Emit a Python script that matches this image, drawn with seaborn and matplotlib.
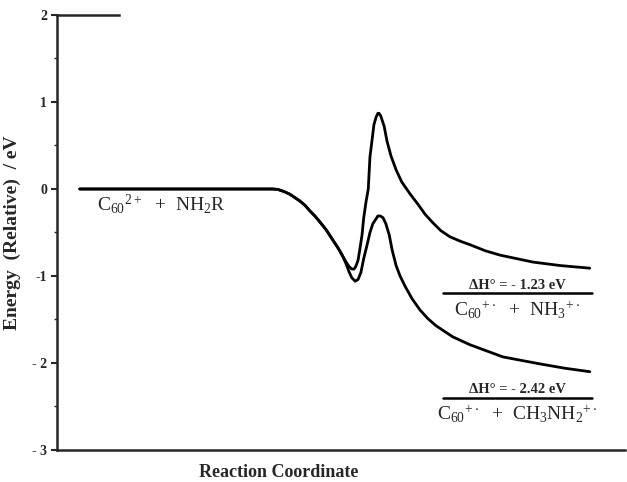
import numpy as np
import pandas as pd
import matplotlib
matplotlib.use("Agg")
import matplotlib.pyplot as plt
import seaborn as sns

# Curve points: reaction coordinate (0..100 across the axis) and energy (eV)
shared_x = [4.0, 38.0, 38.9, 40.0, 41.0, 41.9, 42.8, 43.7, 44.5, 45.4, 46.3, 47.4, 48.6, 49.5, 50.2]
shared_y = [0.0, 0.0, -0.005, -0.03, -0.06, -0.10, -0.14, -0.19, -0.25, -0.31, -0.38, -0.47, -0.59, -0.68, -0.76]

upper_x = [50.9, 51.4, 51.9, 52.3, 52.6, 53.0, 53.3, 53.7, 54.0, 54.4, 54.8, 55.1, 55.5, 55.8,
           56.2, 56.5, 56.7, 57.0, 57.6, 58.1, 58.8, 59.7, 60.7, 62.2, 63.6, 64.8, 66.2, 67.6,
           69.2, 71.0, 72.7, 75.4, 78.0, 83.8, 88.6, 93.8]
upper_y = [-0.84, -0.89, -0.92, -0.92, -0.89, -0.82, -0.70, -0.53, -0.33, -0.15, 0.0, 0.37, 0.58, 0.74,
           0.83, 0.87, 0.87, 0.84, 0.72, 0.55, 0.38, 0.22, 0.08, -0.06, -0.18, -0.29, -0.39, -0.48,
           -0.55, -0.60, -0.64, -0.71, -0.76, -0.84, -0.88, -0.91]

lower_x = [50.9, 51.4, 51.9, 52.5, 53.0, 53.5, 54.0, 54.6, 55.1, 55.6, 56.2, 56.5, 56.9, 57.4,
           57.9, 58.5, 59.0, 59.7, 60.4, 61.3, 62.5, 63.9, 65.3, 66.7, 68.3, 69.7, 72.7, 78.5,
           85.0, 89.4, 93.8]
lower_y = [-0.86, -0.95, -1.02, -1.06, -1.04, -0.96, -0.80, -0.64, -0.50, -0.40, -0.34, -0.31, -0.31, -0.33,
           -0.40, -0.53, -0.70, -0.88, -1.00, -1.12, -1.26, -1.39, -1.49, -1.57, -1.64, -1.70, -1.79, -1.93,
           -2.01, -2.06, -2.10]

dh_labels = ['ΔH° = - 1.23 eV', 'ΔH° = - 2.42 eV']
dh_line_y = [-1.20, -2.40]
product_labels = [r'C$_{60}$$^{+\cdot}$  +  NH$_3$$^{+\cdot}$',
                  r'C$_{60}$$^{+\cdot}$  +  CH$_3$NH$_2$$^{+\cdot}$']
reactant_label = r'C$_{60}$$^{2+}$  +  NH$_2$R'
yticks = [2, 1, 0, -1, -2, -3]
ytick_labels = ['2', '1', '0', '-1', '- 2', '- 3']

upper = pd.DataFrame({'x': shared_x + upper_x, 'y': shared_y + upper_y})
lower = pd.DataFrame({'x': shared_x + lower_x, 'y': shared_y + lower_y})

sns.set_style("ticks")
plt.rcParams['font.family'] = ['Liberation Serif', 'DejaVu Serif']
plt.rcParams['mathtext.default'] = 'regular'

fig = plt.figure(figsize=(6.27, 4.82), dpi=100)
ax = fig.add_axes([57 / 627, 32 / 482, 568 / 627, 435 / 482])

sns.lineplot(data=upper, x='x', y='y', color='black', lw=2, sort=False, ax=ax)
sns.lineplot(data=lower, x='x', y='y', color='black', lw=2, sort=False, ax=ax)

ax.set_xlim(0, 100)
ax.set_ylim(-3, 2)
ax.set_xticks([])
ax.set_yticks(yticks)
ax.set_yticklabels(ytick_labels, fontweight='bold', fontsize=10)
ax.set_yticks(np.arange(-2.5, 2, 1.0), minor=True)
ax.tick_params(axis='y', which='major', direction='out', length=4, width=1.5, pad=3)
ax.tick_params(axis='y', which='minor', direction='out', length=2, width=1)

for s in ['left', 'bottom', 'top']:
    ax.spines[s].set_linewidth(1.8)
ax.spines['right'].set_visible(False)
ax.spines['top'].set_bounds(0, 11)

ax.set_xlabel('Reaction Coordinate', fontsize=13, fontweight='bold', x=0.39, labelpad=10)
ax.set_ylabel('Energy  (Relative)  / eV', fontsize=14, fontweight='bold', labelpad=8)

ax.text(18.3, -0.17, reactant_label, fontsize=14, ha='center', va='center')

for lab, prod, ly in zip(dh_labels, product_labels, dh_line_y):
    ax.plot([68.0, 94.2], [ly, ly], color='black', lw=1.8)
    ax.text(81, ly + 0.02, lab, fontsize=10.5, fontweight='bold', ha='center', va='bottom')
    ax.text(81, ly - 0.07, prod, fontsize=14, ha='center', va='top')

fig.savefig('out.png', dpi=100)
